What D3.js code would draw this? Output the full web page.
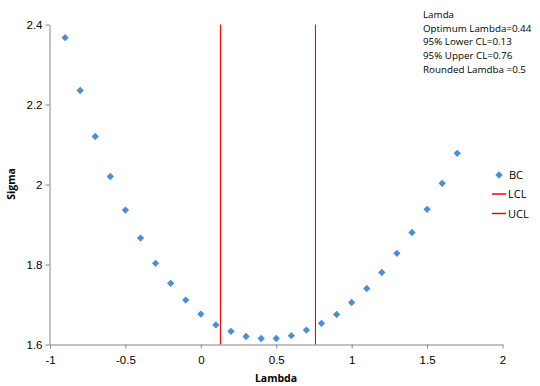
<!DOCTYPE html>
<html>
<head>
<meta charset="utf-8">
<script src="https://cdn.jsdelivr.net/npm/d3@7"></script>
<style>
  body { margin: 0; background: #fff; }
  svg { font-family: "Open Sans", "Liberation Sans", sans-serif; }
</style>
</head>
<body>
<svg id="chart" width="540" height="386"></svg>
<script>
// data
const lambdas = [-0.9, -0.8, -0.7, -0.6, -0.5, -0.4, -0.3, -0.2, -0.1, 0, 0.1, 0.2, 0.3, 0.4,
    0.5, 0.6, 0.7, 0.8, 0.9, 1.0, 1.1, 1.2, 1.3, 1.4, 1.5, 1.6, 1.7];
const sigmas = [2.367, 2.235, 2.12, 2.02, 1.936, 1.866, 1.803, 1.753, 1.711, 1.676, 1.649, 1.633,
    1.62, 1.615, 1.615, 1.622, 1.636, 1.653, 1.675, 1.705, 1.74, 1.78, 1.828, 1.88, 1.938, 2.003, 2.078];
const limits = [{ name: "LCL", value: 0.13 }, { name: "UCL", value: 0.76 }];
const xTicks = [-1, -0.5, 0, 0.5, 1, 1.5, 2];
const yTicks = [1.6, 1.8, 2, 2.2, 2.4];
const notes = ["Lamda", "Optimum Lambda=0.44", "95% Lower CL=0.13", "95% Upper CL=0.76", "Rounded Lamdba =0.5"];

const svg = d3.select("#chart");
const x = d3.scaleLinear().domain([-1, 2]).range([50, 502.5]);
const y = d3.scaleLinear().domain([1.6, 2.4]).range([344.5, 24.5]);
const axisColor = "#868686";
const blue = "#4a8ed6";

// axes
const xAxis = svg.append("g").attr("transform", "translate(0,344.5)")
    .call(d3.axisBottom(x).tickValues(xTicks).tickSize(4).tickSizeOuter(0)
        .tickFormat(d => String(d)));
const yAxis = svg.append("g").attr("transform", "translate(49.5,0)")
    .call(d3.axisLeft(y).tickValues(yTicks).tickSize(4).tickSizeOuter(0)
        .tickFormat(d => String(d)));
[xAxis, yAxis].forEach(a => {
    a.select(".domain").attr("stroke", axisColor);
    a.selectAll(".tick line").attr("stroke", axisColor);
    a.selectAll(".tick text").attr("fill", "#000").attr("font-size", 11.5);
});
xAxis.selectAll(".tick text").attr("dy", "1.1em");
yAxis.selectAll(".tick text").attr("dy", "0.35em").attr("x", -7);

// axis titles
svg.append("text").attr("x", 276).attr("y", 382).attr("text-anchor", "middle")
    .attr("font-size", 10.5).attr("font-weight", "bold").text("Lambda");
svg.append("text").attr("transform", "translate(15,184) rotate(-90)").attr("text-anchor", "middle")
    .attr("font-size", 10.5).attr("font-weight", "bold").text("Sigma");

// confidence limit lines
svg.append("g").selectAll("line").data(limits).enter().append("line")
    .attr("x1", d => x(d.value)).attr("x2", d => x(d.value))
    .attr("y1", y(2.4)).attr("y2", y(1.6))
    .attr("stroke", "#ff0000").attr("stroke-width", 1.1);

// BC points as diamonds
const diamond = d3.symbol().type(d3.symbolDiamond2).size(34);
svg.append("g").selectAll("path").data(lambdas).enter().append("path")
    .attr("transform", (d, i) => `translate(${x(d)},${y(sigmas[i])})`)
    .attr("d", diamond).attr("fill", blue);

// legend
const legend = svg.append("g").attr("font-size", 11);
legend.append("path").attr("d", diamond).attr("fill", blue).attr("transform", "translate(499,175)");
legend.append("text").attr("x", 509).attr("y", 179).text("BC");
limits.forEach((l, i) => {
    const ly = 194 + i * 19.5;
    legend.append("line").attr("x1", 492).attr("x2", 506).attr("y1", ly).attr("y2", ly)
        .attr("stroke", "#ff0000").attr("stroke-width", 1.5);
    legend.append("text").attr("x", 508).attr("y", ly + 4).text(l.name);
});

// notes
svg.append("g").selectAll("text").data(notes).enter().append("text")
    .attr("x", 423).attr("y", (d, i) => 18 + i * 13.7)
    .attr("font-size", 9.8).text(d => d);
</script>
</body>
</html>
